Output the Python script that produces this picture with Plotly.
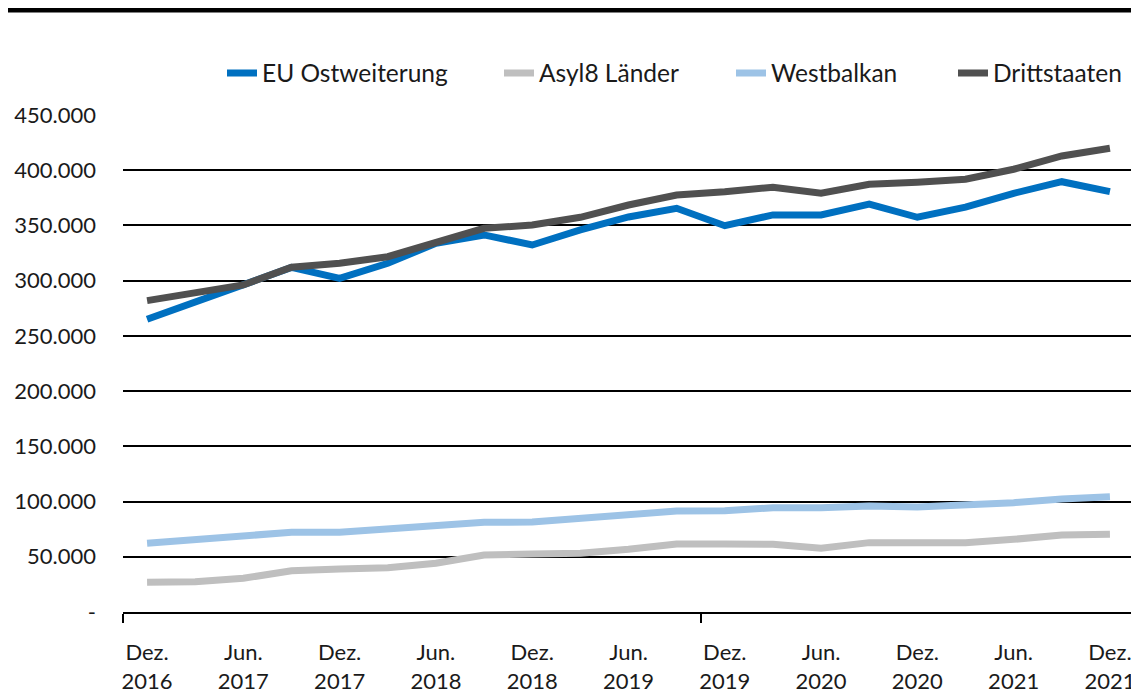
import plotly.graph_objects as go

periods = ["Dez.<br>2016", "Mär.<br>2017", "Jun.<br>2017", "Sep.<br>2017", "Dez.<br>2017",
           "Mär.<br>2018", "Jun.<br>2018", "Sep.<br>2018", "Dez.<br>2018", "Mär.<br>2019",
           "Jun.<br>2019", "Sep.<br>2019", "Dez.<br>2019", "Mär.<br>2020", "Jun.<br>2020",
           "Sep.<br>2020", "Dez.<br>2020", "Mär.<br>2021", "Jun.<br>2021", "Sep.<br>2021",
           "Dez.<br>2021"]

eu_ost = [265000, 281000, 297000, 312000, 302000, 315700, 333900, 341400, 332300, 345900,
          357700, 365500, 349800, 359500, 359500, 369400, 357400, 366500, 379100, 389600, 380600]
asyl8 = [26900, 27500, 30500, 37400, 38900, 40100, 44100, 51600, 52500, 53100,
         56800, 61600, 61600, 61300, 57700, 62800, 62800, 62800, 65800, 69700, 70400]
westbalkan = [62200, 65800, 69100, 72200, 72200, 75200, 78800, 81200, 81500, 85100,
              88700, 91400, 91700, 94400, 94400, 96000, 95100, 96600, 99000, 102300, 104400]
drittstaaten = [281900, 288600, 296100, 312100, 315700, 321700, 335300, 347400, 350400, 357400,
                368500, 377600, 380600, 384600, 379100, 387300, 389100, 391800, 400900, 412900, 419900]

series_names = ["EU Ostweiterung", "Asyl8 Länder", "Westbalkan", "Drittstaaten"]
series_colors = ["#0070C0", "#BFBFBF", "#9DC3E6", "#505050"]
series_values = [eu_ost, asyl8, westbalkan, drittstaaten]

y_tickvals = [0, 50000, 100000, 150000, 200000, 250000, 300000, 350000, 400000, 450000]
y_ticktext = ["-", "50.000", "100.000", "150.000", "200.000", "250.000", "300.000",
              "350.000", "400.000", "450.000"]

x_idx = list(range(len(periods)))
label_idx = x_idx[::2]
label_text = [periods[i] for i in label_idx]

FONT = "Lato"
TXT = "#1a1a1a"

# The page body has an 8px default margin; work in window pixels and offset.
OFF = 8
WIN_W, WIN_H = 1139, 695
FIG_W, FIG_H = WIN_W - OFF, WIN_H - OFF

# plot area in window pixels
PL, PR, PT, PB = 123, 1134, 115, 612
L = PL - OFF
T = PT - OFF
R = FIG_W - (PR - OFF)
B = FIG_H - (PB - OFF)
PW = PR - PL
PH = PB - PT

def wx(px):
    return (px - PL) / PW

def wy(py):
    return (PB - py) / PH

legend_left_px = [222, 499, 731, 953]
legend_ids = ["legend", "legend2", "legend3", "legend4"]

fig = go.Figure()
for name, color, vals, lid in zip(series_names, series_colors, series_values, legend_ids):
    fig.add_trace(go.Scatter(
        x=x_idx, y=vals, name=name, mode="lines",
        line=dict(color=color, width=7),
        legend=lid,
    ))

legend_layout = {}
for lid, lx in zip(legend_ids, legend_left_px):
    legend_layout[lid] = dict(
        x=wx(lx), xanchor="left",
        y=wy(73), yanchor="middle",
        orientation="h",
        font=dict(family=FONT, size=24.5, color=TXT),
        bgcolor="rgba(0,0,0,0)",
    )

fig.update_layout(
    width=FIG_W, height=FIG_H,
    margin=dict(l=L, r=R, t=T, b=B),
    paper_bgcolor="white", plot_bgcolor="white",
    font=dict(family=FONT, size=22, color=TXT),
    showlegend=True,
    shapes=[dict(
        type="line", xref="paper", yref="paper",
        x0=wx(0), x1=wx(WIN_W),
        y0=wy(10), y1=wy(10),
        line=dict(color="black", width=5),
    )],
    **legend_layout,
)

fig.update_xaxes(
    range=[-0.5, 20.5], automargin=False,
    tickmode="array", tickvals=label_idx, ticktext=label_text,
    ticks="", showgrid=False, zeroline=False,
    showline=True, linecolor="black", linewidth=2,
    tickfont=dict(family=FONT, size=22, color=TXT),
    ticklabelstandoff=20,
    minor=dict(tickmode="array", tickvals=[-0.5, 11.5], ticks="outside",
               ticklen=9, tickwidth=2, tickcolor="black", showgrid=False),
)

fig.update_yaxes(
    range=[0, 450000], automargin=False,
    tickmode="array", tickvals=y_tickvals, ticktext=y_ticktext,
    ticks="", showgrid=True, gridcolor="black", gridwidth=1.6,
    zeroline=False, showline=False,
    tickfont=dict(family=FONT, size=22, color=TXT),
    ticklabelstandoff=26,
)

fig.write_html("out.html")
